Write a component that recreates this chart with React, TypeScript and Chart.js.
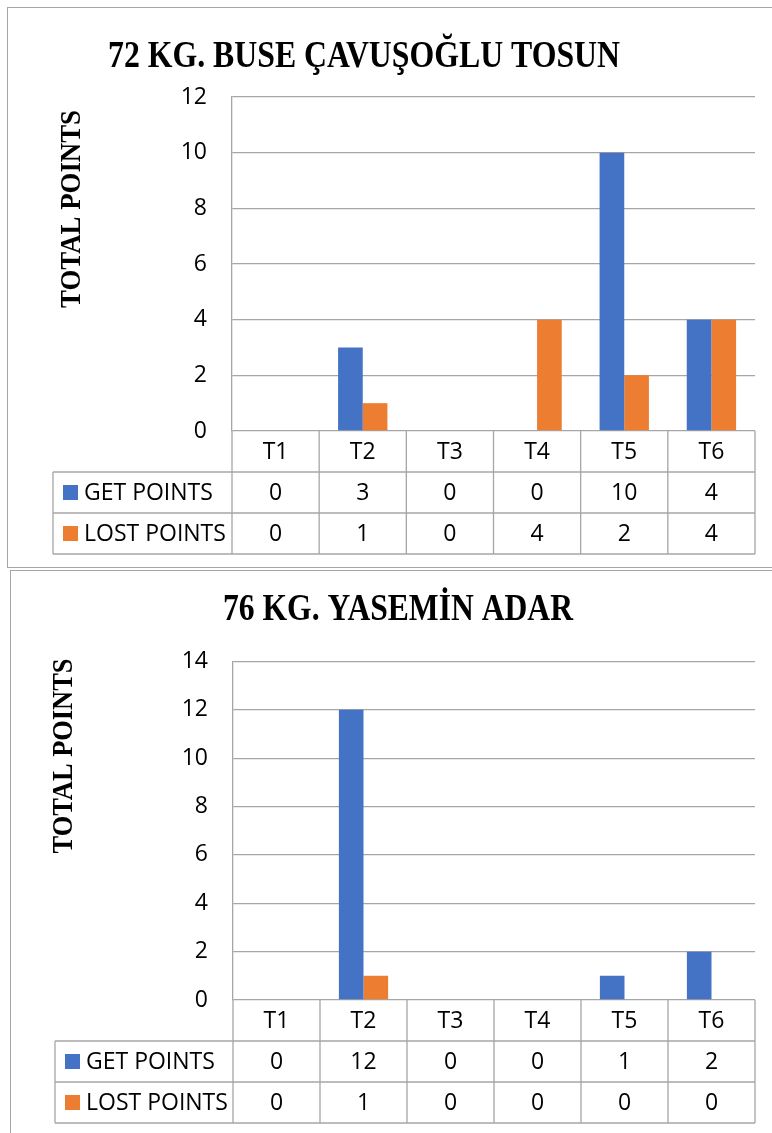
import React, { useEffect, useRef } from 'react';
import { Chart, registerables } from 'chart.js';

Chart.register(...registerables);

// ---------- data ----------
const categories = ['T1', 'T2', 'T3', 'T4', 'T5', 'T6'];
const seriesNames = ['GET POINTS', 'LOST POINTS'];
const seriesColors = ['#4472C4', '#ED7D31'];
const yAxisTitle = 'TOTAL POINTS';

const chart1Title = '72 KG. BUSE ÇAVUŞOĞLU TOSUN';
const chart1Get = [0, 3, 0, 0, 10, 4];
const chart1Lost = [0, 1, 0, 4, 2, 4];
const chart1YMax = 12;

const chart2Title = '76 KG. YASEMİN ADAR';
const chart2Get = [0, 12, 0, 0, 1, 2];
const chart2Lost = [0, 1, 0, 0, 0, 0];
const chart2YMax = 14;

const yStep = 2;

// ---------- layout ----------
const LINE = '#a6a6a6';
const SANS = '"Open Sans", "Liberation Sans", sans-serif';
const SERIF = '"Liberation Serif", "Times New Roman", serif';
const ROW_H = 41;
const FONT_SIZE = 23;

type Cfg = {
  title: string;
  get: number[];
  lost: number[];
  yMax: number;
  height: number;
  top: number;
  titleX: number;
  titleBase: number;
  titleWidth: number;
  yTitleX: number;
  yTitleY: number;
  yTitleLen: number;
  padTop: number;
  padBottom: number;
  plotLeft: number;
  legendLeft: number;
};

function BarTableChart({ cfg }: { cfg: Cfg }) {
  const ref = useRef<HTMLCanvasElement | null>(null);

  useEffect(() => {
    if (!ref.current) return;
    const values = [cfg.get, cfg.lost];

    const decor = {
      id: 'decor',
      afterDraw(chart: any) {
        const ctx = chart.ctx as CanvasRenderingContext2D;
        const area = chart.chartArea;
        const xs = chart.scales.x;

        // main title
        ctx.save();
        ctx.font = `bold 37px ${SERIF}`;
        const tw = ctx.measureText(cfg.title).width;
        ctx.translate(cfg.titleX, cfg.titleBase);
        ctx.scale(cfg.titleWidth / tw, 1);
        ctx.fillStyle = '#000';
        ctx.textAlign = 'center';
        ctx.textBaseline = 'alphabetic';
        ctx.fillText(cfg.title, 0, 0);
        ctx.restore();

        // y axis title
        ctx.save();
        ctx.font = `bold 30px ${SERIF}`;
        const yw = ctx.measureText(yAxisTitle).width;
        ctx.translate(cfg.yTitleX, cfg.yTitleY);
        ctx.rotate(-Math.PI / 2);
        ctx.scale(cfg.yTitleLen / yw, 1);
        ctx.fillStyle = '#000';
        ctx.textAlign = 'center';
        ctx.textBaseline = 'middle';
        ctx.fillText(yAxisTitle, 0, 0);
        ctx.restore();

        // data table
        const n = categories.length;
        const colW = (area.right - area.left) / n;
        const top = area.bottom;
        const bottom = top + ROW_H * 3;
        ctx.save();
        ctx.strokeStyle = LINE;
        ctx.lineWidth = 1.3;
        ctx.beginPath();
        for (let r = 1; r <= 3; r++) {
          const y = top + ROW_H * r;
          ctx.moveTo(cfg.legendLeft, y);
          ctx.lineTo(area.right, y);
        }
        ctx.moveTo(cfg.legendLeft, top + ROW_H);
        ctx.lineTo(cfg.legendLeft, bottom);
        for (let i = 0; i <= n; i++) {
          const x = area.left + colW * i;
          ctx.moveTo(x, top);
          ctx.lineTo(x, bottom);
        }
        ctx.stroke();

        ctx.fillStyle = '#000';
        ctx.font = `${FONT_SIZE}px ${SANS}`;
        ctx.textAlign = 'center';
        ctx.textBaseline = 'middle';
        categories.forEach((c, i) => {
          const cx = xs.getPixelForValue(i);
          ctx.fillText(c, cx, top + ROW_H / 2 + 1);
          values.forEach((vals, s) => {
            ctx.fillText(String(vals[i]), cx, top + ROW_H * (s + 1.5) + 1);
          });
        });
        seriesNames.forEach((name, s) => {
          const cy = top + ROW_H * (s + 1.5);
          ctx.fillStyle = seriesColors[s];
          ctx.fillRect(cfg.legendLeft + 10, cy - 7.5, 15, 15);
          ctx.fillStyle = '#000';
          ctx.textAlign = 'left';
          ctx.fillText(name, cfg.legendLeft + 31, cy + 1);
        });
        ctx.restore();
      },
    };

    const chart = new Chart(ref.current, {
      type: 'bar',
      data: {
        labels: categories,
        datasets: seriesNames.map((name, s) => ({
          label: name,
          data: values[s],
          backgroundColor: seriesColors[s],
          borderWidth: 0,
          categoryPercentage: 0.566,
          barPercentage: 1,
        })),
      },
      options: {
        responsive: false,
        animation: false,
        layout: {
          padding: { left: 10, right: 17, top: cfg.padTop, bottom: cfg.padBottom },
        },
        plugins: {
          legend: { display: false },
          title: { display: false },
          tooltip: { enabled: false },
        },
        scales: {
          x: {
            ticks: { display: false },
            grid: { display: false },
            border: { display: false },
            afterFit: (s: any) => {
              s.height = ROW_H * 3;
            },
          },
          y: {
            min: 0,
            max: cfg.yMax,
            ticks: {
              stepSize: yStep,
              padding: 25,
              color: '#000',
              font: { family: SANS, size: FONT_SIZE },
            },
            grid: { color: LINE, lineWidth: 1.3, drawTicks: false },
            border: { display: true, color: LINE, width: 1.3 },
            afterFit: (s: any) => {
              s.width = cfg.plotLeft - 10;
            },
          },
        },
      } as any,
      plugins: [decor],
    });
    return () => chart.destroy();
  }, [cfg]);

  return (
    <canvas
      ref={ref}
      width={772}
      height={cfg.height}
      style={{ position: 'absolute', left: 0, top: cfg.top, width: 772, height: cfg.height }}
    />
  );
}

const cfg1: Cfg = {
  title: chart1Title,
  get: chart1Get,
  lost: chart1Lost,
  yMax: chart1YMax,
  height: 569,
  top: 0,
  titleX: 364,
  titleBase: 67,
  titleWidth: 512,
  yTitleX: 72,
  yTitleY: 209,
  yTitleLen: 198,
  padTop: 97,
  padBottom: 15,
  plotLeft: 232,
  legendLeft: 53,
};

const cfg2: Cfg = {
  title: chart2Title,
  get: chart2Get,
  lost: chart2Lost,
  yMax: chart2YMax,
  height: 564,
  top: 569,
  titleX: 398,
  titleBase: 51,
  titleWidth: 350,
  yTitleX: 64,
  yTitleY: 187,
  yTitleLen: 195,
  padTop: 92.5,
  padBottom: 10,
  plotLeft: 233,
  legendLeft: 55,
};

export default function App() {
  return (
    <div
      style={{
        position: 'absolute',
        left: 0,
        top: 0,
        width: 772,
        height: 1133,
        overflow: 'hidden',
        background: '#fff',
      }}
    >
      <div
        style={{
          position: 'absolute',
          left: 7,
          top: 7,
          width: 820,
          height: 561,
          border: '1px solid #a6a6a6',
          boxSizing: 'border-box',
        }}
      />
      <div
        style={{
          position: 'absolute',
          left: 10,
          top: 570,
          width: 820,
          height: 620,
          border: '1px solid #a6a6a6',
          boxSizing: 'border-box',
        }}
      />
      <BarTableChart cfg={cfg1} />
      <BarTableChart cfg={cfg2} />
    </div>
  );
}
